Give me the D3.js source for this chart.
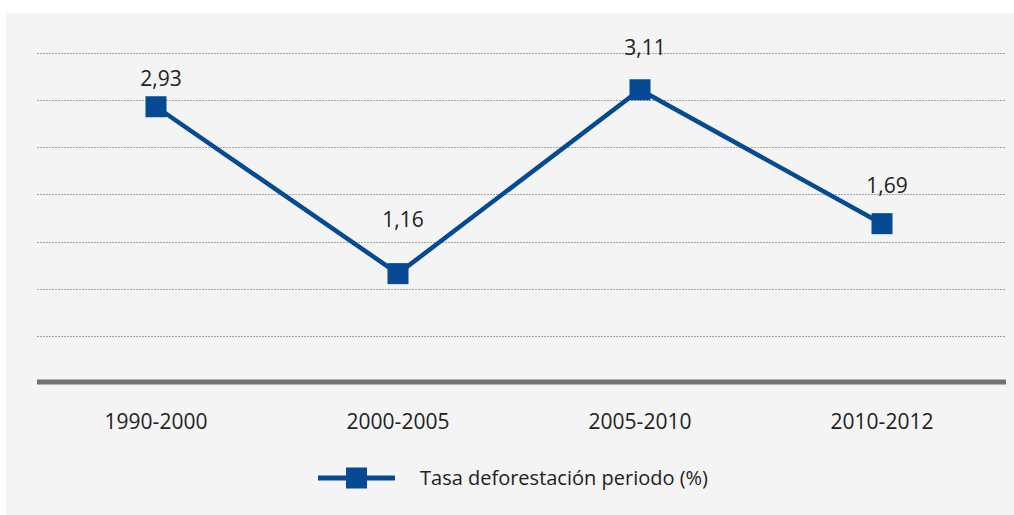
<!DOCTYPE html>
<html>
<head>
<meta charset="utf-8">
<script src="https://cdn.jsdelivr.net/npm/d3@7"></script>
<style>
  body { margin: 0; background: #fff; }
  text { font-family: "Open Sans", sans-serif; fill: #222; }
</style>
</head>
<body>
<script>
// data
const periods = ['1990-2000', '2000-2005', '2005-2010', '2010-2012'];
const rates = [2.93, 1.16, 3.11, 1.69];
const rateLabels = ['2,93', '1,16', '3,11', '1,69'];
const gridTicks = [0.5, 1, 1.5, 2, 2.5, 3, 3.5];
const seriesName = 'Tasa deforestación periodo (%)';

// label offsets above each marker (px)
const labelDy = [-21, -47, -35, -31];

const blue = '#064a93';

const svg = d3.select('body')
              .append('svg')
              .attr('width', 1014)
              .attr('height', 515);

// panel background
svg.append('rect')
  .attr('x', 6).attr('y', 13)
  .attr('width', 1008).attr('height', 502)
  .attr('fill', '#f3f4f3');

const xscale = d3.scaleBand()
                .domain(periods)
                .range([35, 1003]);

const yscale = d3.scaleLinear()
                .domain([0, 3.5])
                .range([383, 53]);

const cx = d => xscale(d) + xscale.bandwidth() / 2;

// dotted gridlines
svg.append('g')
  .selectAll('line')
  .data(gridTicks)
  .enter().append('line')
  .attr('x1', 37).attr('x2', 1006)
  .attr('y1', d => Math.round(yscale(d)) + 0.5)
  .attr('y2', d => Math.round(yscale(d)) + 0.5)
  .attr('stroke', '#a3a3a3')
  .attr('stroke-width', 1)
  .attr('stroke-dasharray', '2,1');

// x axis
const x_axis = d3.axisBottom(xscale).tickSize(0).tickPadding(0);
const xg = svg.append('g')
  .attr('transform', `translate(0, ${yscale(0)})`)
  .call(x_axis);
xg.select('.domain').remove();
xg.selectAll('text')
  .attr('dy', 0)
  .attr('y', 46)
  .style('font-size', '21px')
  .style('fill', '#222');

svg.append('line')
  .attr('x1', 37).attr('x2', 1006)
  .attr('y1', yscale(0) - 1).attr('y2', yscale(0) - 1)
  .attr('stroke', '#737373')
  .attr('stroke-width', 5);

// series line
const line = d3.line()
  .x((d, i) => cx(periods[i]))
  .y(d => yscale(d));

svg.append('path')
  .datum(rates)
  .attr('d', line)
  .attr('fill', 'none')
  .attr('stroke', blue)
  .attr('stroke-width', 4.5);

svg.selectAll('rect.marker')
  .data(rates)
  .enter().append('rect')
  .attr('class', 'marker')
  .attr('x', (d, i) => cx(periods[i]) - 10.5)
  .attr('y', d => yscale(d) - 10.5)
  .attr('width', 21)
  .attr('height', 21)
  .attr('fill', blue);

svg.selectAll('text.val')
  .data(rates)
  .enter().append('text')
  .attr('class', 'val')
  .attr('x', (d, i) => cx(periods[i]) + 5)
  .attr('y', (d, i) => yscale(d) + labelDy[i])
  .attr('text-anchor', 'middle')
  .style('font-size', '21px')
  .text((d, i) => rateLabels[i]);

// legend
const legend = svg.append('g').attr('transform', 'translate(318, 478)');
legend.append('line')
  .attr('x1', 0).attr('x2', 77)
  .attr('y1', 0).attr('y2', 0)
  .attr('stroke', blue)
  .attr('stroke-width', 5);
legend.append('rect')
  .attr('x', 28).attr('y', -10.5)
  .attr('width', 21).attr('height', 21)
  .attr('fill', blue);
legend.append('text')
  .attr('x', 102).attr('y', 7)
  .style('font-size', '20px')
  .text(seriesName);
</script>
</body>
</html>
